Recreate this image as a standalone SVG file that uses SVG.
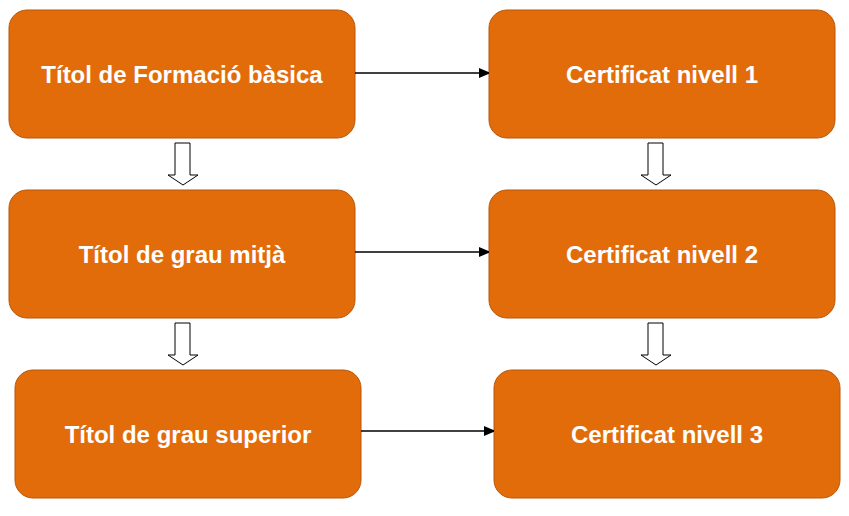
<svg xmlns="http://www.w3.org/2000/svg" width="849" height="516" viewBox="0 0 849 516">
<style>
.box{fill:#E36C0A;stroke:#B8570A;stroke-width:1}
.t{font-family:"Liberation Sans",sans-serif;font-weight:bold;font-size:24px;fill:#fff;text-anchor:middle;dominant-baseline:central}
.c{stroke:#000;stroke-width:1.3;fill:none}
.blk{fill:#fff;stroke:#000;stroke-width:1}
</style>
<defs><marker id="ah" markerWidth="10" markerHeight="10" refX="10" refY="5" orient="auto" markerUnits="userSpaceOnUse"><path d="M0,0 L12,5 L0,10 z" fill="#000"/></marker></defs>
<g id="n1"><rect class="box" x="9" y="10" width="346" height="128" rx="18"/><text class="t" x="182" y="74">Títol de Formació bàsica</text></g>
<g id="n2"><rect class="box" x="489" y="10" width="346" height="128" rx="18"/><text class="t" x="662" y="74">Certificat nivell 1</text></g>
<g id="n3"><rect class="box" x="9" y="190" width="346" height="128" rx="18"/><text class="t" x="182" y="254">Títol de grau mitjà</text></g>
<g id="n4"><rect class="box" x="489" y="190" width="346" height="128" rx="18"/><text class="t" x="662" y="254">Certificat nivell 2</text></g>
<g id="n5"><rect class="box" x="15" y="370" width="346" height="128" rx="18"/><text class="t" x="188" y="434">Títol de grau superior</text></g>
<g id="n6"><rect class="box" x="494" y="370" width="346" height="128" rx="18"/><text class="t" x="667" y="434">Certificat nivell 3</text></g>
<g id="connectors">
<line class="c" x1="355" y1="73" x2="489" y2="73" marker-end="url(#ah)"/>
<line class="c" x1="355" y1="252" x2="489" y2="252" marker-end="url(#ah)"/>
<line class="c" x1="361" y1="431" x2="494" y2="431" marker-end="url(#ah)"/>
<path class="blk" d="M175,143 H190 V175 H198 L183,185 L168,175 H175 Z"/>
<path class="blk" d="M648,143 H663 V175 H671 L656,185 L641,175 H648 Z"/>
<path class="blk" d="M175,323 H190 V355 H198 L183,365 L168,355 H175 Z"/>
<path class="blk" d="M648,323 H663 V355 H671 L656,365 L641,355 H648 Z"/>
</g>
</svg>
